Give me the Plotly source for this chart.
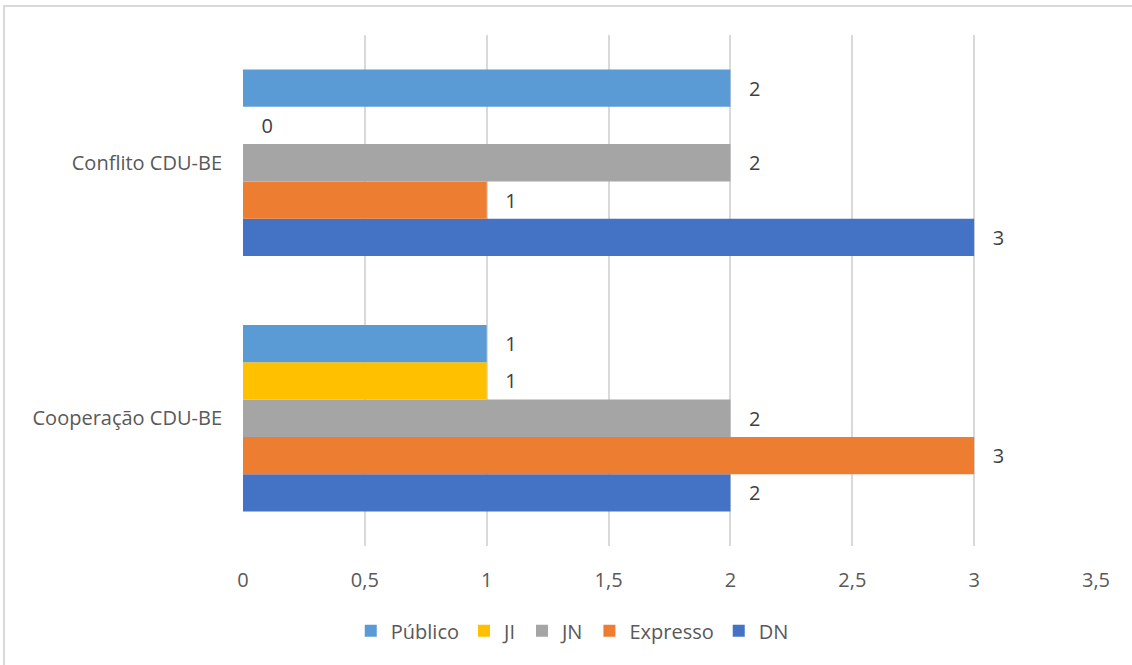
import plotly.graph_objects as go

categories = ["Cooperação CDU-BE", "Conflito CDU-BE"]
series_names = ["DN", "Expresso", "JN", "JI", "Público"]
dn = [2, 3]
expresso = [3, 1]
jn = [2, 2]
ji = [1, 0]
publico = [1, 2]
x_ticks = [0, 0.5, 1, 1.5, 2, 2.5, 3, 3.5]

values = [dn, expresso, jn, ji, publico]
colors = ["#4472C4", "#ED7D31", "#A5A5A5", "#FFC000", "#5B9BD5"]

fig = go.Figure()
for name, vals, col in zip(series_names, values, colors):
    fig.add_trace(go.Bar(
        y=categories, x=vals, name=name, orientation="h",
        marker=dict(color=col, line=dict(width=0)),
        text=vals, texttemplate="\u00a0\u00a0\u00a0%{x}", textposition="outside",
        textfont=dict(size=20, color="#404040", family="Open Sans"),
        cliponaxis=False,
    ))

fig.update_layout(
    width=1132, height=665,
    margin=dict(l=243, r=36, t=35, b=119),
    paper_bgcolor="white", plot_bgcolor="white",
    barmode="group", bargap=0.27, bargroupgap=0,
    separators=", ",
    font=dict(family="Open Sans", size=20, color="#595959"),
    legend=dict(orientation="h", x=0.386, xanchor="center", y=-0.166, yanchor="middle",
                traceorder="reversed", font=dict(size=20, color="#595959"),
                itemwidth=30),
    xaxis=dict(range=[0, 3.5], tickvals=x_ticks, tickformat=".1~f",
               showgrid=True, gridcolor="#D9D9D9", gridwidth=2,
               zeroline=False, showline=False, ticks="", ticklabelstandoff=20,
               tickfont=dict(size=20, color="#595959")),
    yaxis=dict(showgrid=False, zeroline=False, showline=False, ticks="",
               ticklabelstandoff=20, tickfont=dict(size=20, color="#595959")),
    shapes=[
        dict(type="line", xref="paper", yref="paper",
             x0=-240/853, x1=1.1, y0=1 + 29/511, y1=1 + 29/511,
             line=dict(color="#D9D9D9", width=2)),
        dict(type="line", xref="paper", yref="paper",
             x0=-239/853, x1=-239/853, y0=-0.3, y1=1 + 29/511,
             line=dict(color="#D9D9D9", width=2)),
    ],
)

fig.write_html("out.html", config={"displayModeBar": False},
               post_script="document.body.style.margin='0';")
